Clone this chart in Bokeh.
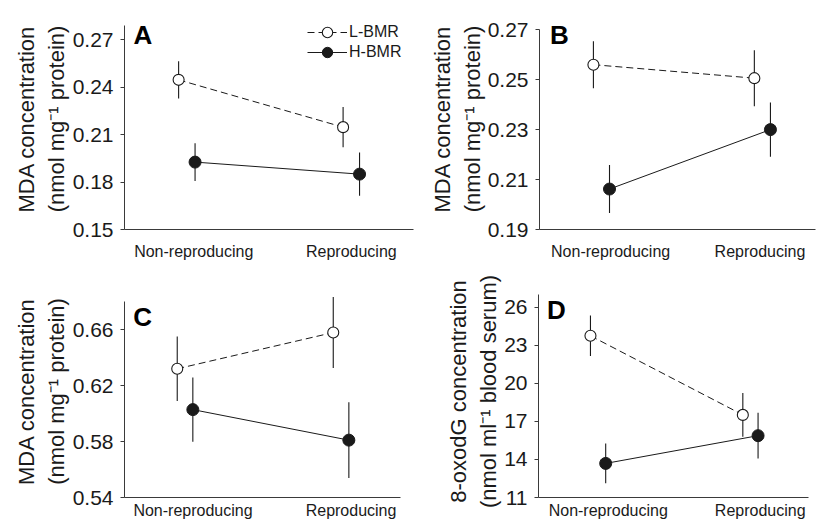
import numpy as np
from bokeh.plotting import figure
from bokeh.layouts import column, row
from bokeh.models import Range1d, FixedTicker, Legend, LegendItem, PrintfTickFormatter, Label
from bokeh.embed import file_html
from bokeh.resources import INLINE

# ---------------- data ----------------
groups = ["Non-reproducing", "Reproducing"]
series = ["L-BMR", "H-BMR"]

a_lbmr = [0.2446, 0.2147]
a_lbmr_se = [0.0118, 0.0127]
a_hbmr = [0.1926, 0.1850]
a_hbmr_se = [0.0119, 0.0137]

b_lbmr = [0.2560, 0.2506]
b_lbmr_se = [0.0094, 0.0112]
b_hbmr = [0.2062, 0.2300]
b_hbmr_se = [0.0096, 0.0109]

c_lbmr = [0.6320, 0.6579]
c_lbmr_se = [0.0231, 0.0254]
c_hbmr = [0.6028, 0.5810]
c_hbmr_se = [0.0229, 0.0271]

d_lbmr = [23.76, 17.52]
d_lbmr_se = [1.60, 1.73]
d_hbmr = [13.69, 15.88]
d_hbmr_se = [1.57, 1.80]

a_yticks = [0.15, 0.18, 0.21, 0.24, 0.27]
b_yticks = [0.19, 0.21, 0.23, 0.25, 0.27]
c_yticks = [0.54, 0.58, 0.62, 0.66]
d_yticks = [11, 14, 17, 20, 23, 26]

mda_label = "MDA concentration\n(nmol mg\u207b\u00b9 protein)"
oxo_label = "8-oxodG concentration\n(nmol ml\u207b\u00b9 blood serum)"

# ---------------- style ----------------
FONT = "Liberation Sans"
INK = "#1a1a1a"
AXIS = "#3a3a3a"


def panel(letter, lb, lb_se, hb, hb_se, yticks, yfmt, ylabel, *,
          width, height, bl, br, bt, bb, xr, yr, ybounds, xtick_pos, letter_xy,
          ylabel_standoff=8, xlabel_standoff=13, legend=False):
    p = figure(width=width, height=height, output_backend="svg", toolbar_location=None,
               x_range=Range1d(*xr), y_range=Range1d(*yr),
               min_border_left=bl, min_border_right=br, min_border_top=bt, min_border_bottom=bb)
    p.outline_line_color = None
    p.xgrid.visible = False
    p.ygrid.visible = False
    p.background_fill_color = "white"

    base = np.array([1.0, 2.0])
    off = 0.05
    xl = base - off
    xh = base + off
    lb = np.array(lb); lb_se = np.array(lb_se)
    hb = np.array(hb); hb_se = np.array(hb_se)

    # error bars
    p.segment(x0=xl, y0=lb - lb_se, x1=xl, y1=lb + lb_se, line_color=INK, line_width=1.1)
    p.segment(x0=xh, y0=hb - hb_se, x1=xh, y1=hb + hb_se, line_color=INK, line_width=1.1)
    # lines
    r_ll = p.line(xl, lb, line_color=INK, line_width=1, line_dash="7 4")
    r_hl = p.line(xh, hb, line_color=INK, line_width=1)
    # markers
    r_lm = p.scatter(xl, lb, size=11, marker="circle", fill_color="white", line_color=INK, line_width=1.1)
    r_hm = p.scatter(xh, hb, size=12, marker="circle", fill_color=INK, line_color=INK, line_width=1)

    # y axis
    ya = p.yaxis[0]
    ya.bounds = ybounds
    ya.ticker = FixedTicker(ticks=yticks)
    ya.formatter = PrintfTickFormatter(format=yfmt)
    ya.major_tick_out = 4
    ya.major_tick_in = 0
    ya.minor_tick_out = 0
    ya.minor_tick_in = 0
    ya.axis_line_color = AXIS
    ya.major_tick_line_color = AXIS
    ya.major_label_text_font = FONT
    ya.major_label_text_font_size = "21px"
    ya.major_label_text_color = INK
    ya.major_label_standoff = 7
    ya.axis_label = ylabel
    ya.axis_label_text_font = FONT
    ya.axis_label_text_font_style = "normal"
    ya.axis_label_text_font_size = "22px"
    ya.axis_label_text_color = INK
    ya.axis_label_standoff = ylabel_standoff

    # x axis
    xa = p.xaxis[0]
    xa.axis_line_color = AXIS
    xa.major_tick_out = 0
    xa.major_tick_in = 0
    xa.minor_tick_out = 0
    xa.minor_tick_in = 0
    xa.ticker = FixedTicker(ticks=xtick_pos)
    xa.major_label_overrides = {xtick_pos[0]: groups[0], xtick_pos[1]: groups[1]}
    xa.major_label_text_font = FONT
    xa.major_label_text_font_size = "16px"
    xa.major_label_text_color = INK
    xa.major_label_standoff = xlabel_standoff

    # panel letter
    p.add_layout(Label(x=letter_xy[0], y=letter_xy[1], text=letter, text_align="left",
                       text_baseline="alphabetic", text_font=FONT, text_font_size="26px",
                       text_font_style="bold", text_color="black"))

    if legend:
        items = [LegendItem(label=series[0], renderers=[r_ll, r_lm]),
                 LegendItem(label=series[1], renderers=[r_hl, r_hm])]
        # one legend per row so the rows sit 20 px apart with full-size markers
        for item, vy in zip(items, (184, 164)):
            lg = Legend(items=[item], location=(183, vy), orientation="vertical")
            lg.border_line_color = None
            lg.background_fill_alpha = 0
            lg.padding = 0
            lg.margin = 0
            lg.spacing = 0
            lg.glyph_width = 40
            lg.glyph_height = 26
            lg.label_height = 20
            lg.label_standoff = 2
            lg.label_text_font = FONT
            lg.label_text_font_size = "16px"
            lg.label_text_color = INK
            p.add_layout(lg, "center")
    return p


pa = panel("A", a_lbmr, a_lbmr_se, a_hbmr, a_hbmr_se, a_yticks, "%.2f", mda_label,
           width=420, height=270, bl=124, br=7, bt=8, bb=41,
           xr=(0.621, 2.378), yr=(0.15, 0.2897), ybounds=(0.15, 0.279), xtick_pos=[1.042, 2.0],
           letter_xy=(0.676, 0.2727), ylabel_standoff=1, legend=True)
pb = panel("B", b_lbmr, b_lbmr_se, b_hbmr, b_hbmr_se, b_yticks, "%.2f", mda_label,
           width=398, height=270, bl=119, br=3, bt=8, bb=39,
           xr=(0.615, 2.330), yr=(0.19, 0.2785), ybounds=(0.19, 0.27), xtick_pos=[1.057, 1.985],
           letter_xy=(0.681, 0.2677), ylabel_standoff=0)
pc = panel("C", c_lbmr, c_lbmr_se, c_hbmr, c_hbmr_se, c_yticks, "%.2f", mda_label,
           width=420, height=251, bl=124, br=20, bt=15, bb=24,
           xr=(0.612, 2.381), yr=(0.54, 0.6915), ybounds=(0.54, 0.68), xtick_pos=[1.051, 2.064],
           letter_xy=(0.668, 0.6688), ylabel_standoff=1, xlabel_standoff=4)
pd_ = panel("D", d_lbmr, d_lbmr_se, d_hbmr, d_hbmr_se, d_yticks, "%d", oxo_label,
            width=398, height=251, bl=118, br=10, bt=15, bb=23,
            xr=(0.609, 2.381), yr=(11, 27.73), ybounds=(11, 27), xtick_pos=[1.067, 2.064],
            letter_xy=(0.664, 25.77), ylabel_standoff=0, xlabel_standoff=4)

layout = column(row(pa, pb), row(pc, pd_))
open("out.html", "w").write(file_html(layout, INLINE))
